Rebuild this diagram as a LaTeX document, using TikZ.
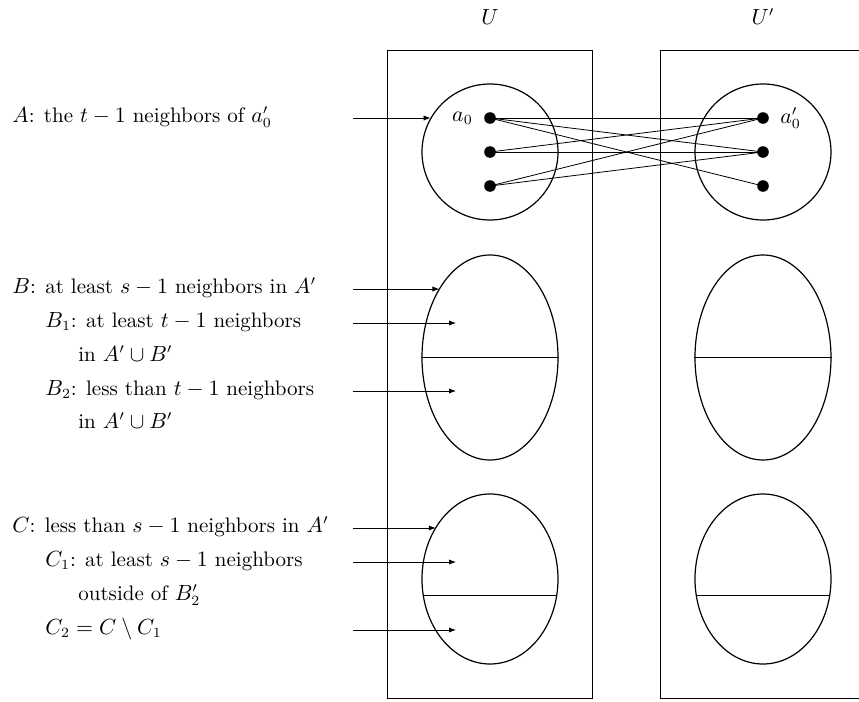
\documentclass[tikz,border=0pt]{standalone}
\usetikzlibrary{arrows.meta,shapes.geometric}

\begin{document}
\begin{tikzpicture}[
  x=0.5pt,y=-0.5pt,
  every node/.style={font=\fontsize{10.5pt}{12.6pt}\selectfont},
  side/.style={draw,line width=0.4pt},
  setA/.style={draw,semithick,circle,minimum size=68pt,inner sep=0pt},
  setB/.style={draw,semithick,ellipse,minimum width=68pt,minimum height=102.5pt,inner sep=0pt},
  setC/.style={draw,semithick,ellipse,minimum width=68pt,minimum height=85pt,inner sep=0pt},
  vtx/.style={circle,fill=black,minimum size=5.8pt,inner sep=0pt},
  desc/.style={anchor=mid west,inner sep=0pt},
  ptr/.style={-{Latex[length=3.5pt,width=2.6pt]},line width=0.4pt},
  edge/.style={line width=0.4pt}
]
  \useasboundingbox (0,0) rectangle (859,702);

  % the two sides
  \draw[side] (387.5,50) rectangle (592.5,698);
  \draw[side] (660,50) rectangle (866,698);
  \node (U) at (490,17) {$U$};
  \node (Up) at (763,17) {$U'$};

  % A, B, C and their copies
  \node[setA] (Al) at (490,152) {};
  \node[setA] (Ar) at (763,152) {};
  \node[setB] (Bl) at (490,357.5) {};
  \node[setB] (Br) at (763,357.5) {};
  \node[setC] (Cl) at (490,579) {};
  \node[setC] (Cr) at (763,579) {};
  \draw[edge] (Bl.west) -- (Bl.east);
  \draw[edge] (Br.west) -- (Br.east);
  \draw[edge] (Cl.194.3) -- (Cl.-14.3);
  \draw[edge] (Cr.194.3) -- (Cr.-14.3);

  % vertices
  \node[vtx,label={[label distance=2pt]left:$a_0$}] (a1) at (490,118) {};
  \node[vtx] (a2) at (490,152) {};
  \node[vtx] (a3) at (490,186) {};
  \node[vtx,label={[label distance=2pt]right:$a'_0$}] (p1) at (763,118) {};
  \node[vtx] (p2) at (763,152) {};
  \node[vtx] (p3) at (763,186) {};

  \draw[edge] (a1.center) -- (p1.center);
  \draw[edge] (a1.center) -- (p2.center);
  \draw[edge] (a1.center) -- (p3.center);
  \draw[edge] (a2.center) -- (p1.center);
  \draw[edge] (a2.center) -- (p2.center);
  \draw[edge] (a3.center) -- (p1.center);
  \draw[edge] (a3.center) -- (p2.center);

  % descriptions
  \node[desc] (lA) at (12,118) {$A$: the $t-1$ neighbors of $a'_0$};
  \node[desc] (lB) at (12,289) {$B$: at least $s-1$ neighbors in $A'$};
  \node[desc] (lB1) at (45,323) {$B_1$: at least $t-1$ neighbors};
  \node[desc] (lB1x) at (78,357) {in $A'\cup B'$};
  \node[desc] (lB2) at (45,391) {$B_2$: less than $t-1$ neighbors};
  \node[desc] (lB2x) at (78,424) {in $A'\cup B'$};
  \node[desc] (lC) at (12,528) {$C$: less than $s-1$ neighbors in $A'$};
  \node[desc] (lC1) at (45,562) {$C_1$: at least $s-1$ neighbors};
  \node[desc] (lC1x) at (78,596) {outside of $B'_2$};
  \node[desc] (lC2) at (45,630) {$C_2=C\setminus C_1$};

  % pointers
  \coordinate (sA) at (353,118);
  \coordinate (sB) at (353,289);
  \coordinate (sB1) at (353,323);
  \coordinate (sB2) at (353,391);
  \coordinate (sC) at (353,528);
  \coordinate (sC1) at (353,562);
  \coordinate (sC2) at (353,630);
  \coordinate (eB1) at (456,323);
  \coordinate (eB2) at (456,391);
  \coordinate (eC1) at (456,562);
  \coordinate (eC2) at (456,630);

  \draw[ptr] (sA) -- (sA -| Al.150);
  \draw[ptr] (sB) -- (sB -| Bl.126.5);
  \draw[ptr] (sB1) -- (eB1);
  \draw[ptr] (sB2) -- (eB2);
  \draw[ptr] (sC) -- (sC -| Cl.136.8);
  \draw[ptr] (sC1) -- (eC1);
  \draw[ptr] (sC2) -- (eC2);
\end{tikzpicture}
\end{document}
